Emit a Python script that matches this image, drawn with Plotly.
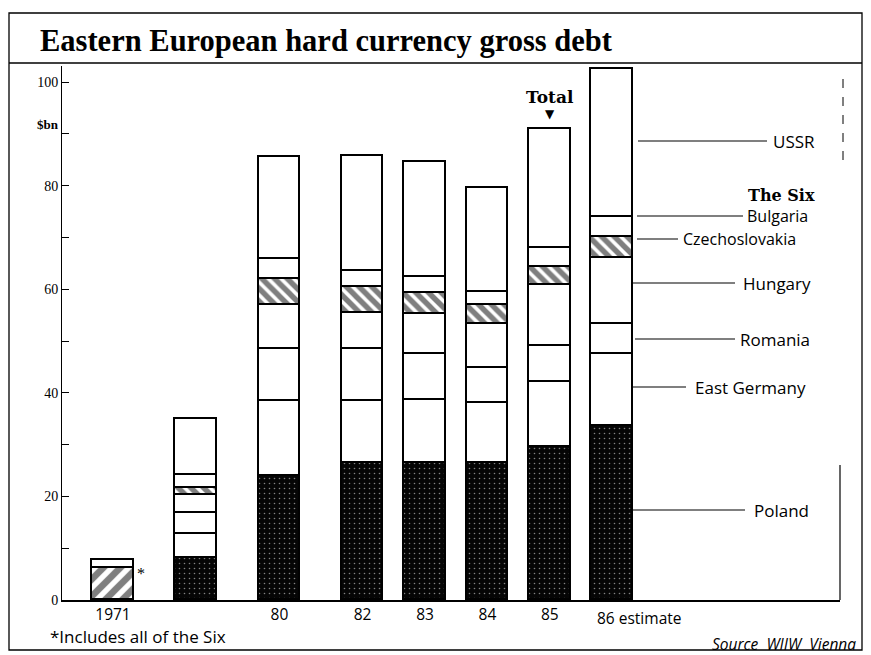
import plotly.graph_objects as go

# ---------------- data ($bn, stacked segments) ----------------
period_labels = ["1971", "", "80", "82", "83", "84", "85", "86"]
six_combined  = [6.1, None, None, None, None, None, None, None]
poland        = [None, 8.2, 24.0, 26.5, 26.5, 26.5, 29.5, 33.5]
east_germany  = [None, 4.6, 14.5, 12.0, 12.2, 11.5, 12.5, 14.0]
romania       = [None, 3.9, 10.0, 10.0, 8.8, 6.8, 7.0, 5.8]
hungary       = [None, 3.6, 8.5, 7.0, 7.8, 8.4, 11.8, 12.7]
czechoslovakia= [None, 1.4, 5.0, 5.0, 4.0, 3.8, 3.5, 4.0]
bulgaria      = [None, 2.5, 3.8, 3.0, 3.0, 2.5, 3.7, 4.0]
ussr          = [1.7, 10.8, 19.7, 22.3, 22.2, 20.0, 23.0, 28.5]

y_tick_values = [0, 10, 20, 30, 40, 50, 60, 70, 80, 90, 100]
y_tick_labels = ["0", "", "20", "", "40", "", "60", "", "80", "", "100"]

# ---------------- layout helpers (pixel coords are page coords) ----------------
slots = [0, 4, 8, 12, 15, 18, 21, 24]       # horizontal slot of each column
OFF = 8                                     # page body margin
W, H = 871 - OFF, 655 - OFF
PL, PR, PT, PB = 62, 840, 66, 600           # plot area in page pixels
X0_PX, X_UNIT = 113, 20.8                   # slot 0 centre, px per slot unit
Y_UNIT = 5.18                               # px per $bn
x_range = [(PL - X0_PX) / X_UNIT, (PR - X0_PX) / X_UNIT]
y_range = [0, (PB - PT) / Y_UNIT]

def dx(px):  # page pixel -> data x
    return (px - X0_PX) / X_UNIT

def dy(py):  # page pixel -> data y
    return (PB - py) / Y_UNIT

def ppx(px):  # page pixel -> paper x
    return (px - PL) / (PR - PL)

def ppy(py):  # page pixel -> paper y
    return (PB - py) / (PB - PT)

SERIF = "Liberation Serif"
SLAB = "DejaVu Serif"
SANS = "Open Sans"

fig = go.Figure()

def add_seg(vals, color, pattern=None, name=""):
    marker = dict(color=color, line=dict(color="black", width=1.6))
    if pattern:
        marker["pattern"] = pattern
    fig.add_trace(go.Bar(x=slots, y=vals, width=2.0, marker=marker, name=name,
                         showlegend=False, hoverinfo="skip"))

add_seg(six_combined, "white", dict(shape="/", fgcolor="black", size=12, solidity=0.55), "The Six")
add_seg(poland, "#050505", dict(shape=".", fgcolor="white", size=5, solidity=0.08), "Poland")
add_seg(east_germany, "white", None, "East Germany")
add_seg(romania, "white", None, "Romania")
add_seg(hungary, "white", None, "Hungary")
add_seg(czechoslovakia, "white", dict(shape="\\", fgcolor="black", size=9, solidity=0.6), "Czechoslovakia")
add_seg(bulgaria, "white", None, "Bulgaria")
add_seg(ussr, "white", None, "USSR")

shapes = []
# outer frame
shapes.append(dict(type="rect", xref="paper", yref="paper",
                   x0=ppx(9), x1=ppx(862), y0=ppy(650), y1=ppy(13),
                   line=dict(color="black", width=1.3)))
# title separator
shapes.append(dict(type="line", xref="paper", yref="paper",
                   x0=ppx(9), x1=ppx(862), y0=ppy(63), y1=ppy(63),
                   line=dict(color="black", width=1.3)))
# right edge of chart panel
shapes.append(dict(type="line", xref="paper", yref="paper",
                   x0=ppx(840), x1=ppx(840), y0=ppy(600), y1=ppy(465),
                   line=dict(color="black", width=1.2)))
shapes.append(dict(type="line", xref="paper", yref="paper",
                   x0=ppx(843), x1=ppx(843), y0=ppy(160), y1=ppy(75),
                   line=dict(color="black", width=1, dash="dash")))

# leader lines to the right-hand labels:
# (text, y px, line start px, line end px, text start px, font size)
labels = [
    ("USSR", 141, 638, 767, 771, 17),
    ("Bulgaria", 216, 637, 743, 745, 16),
    ("Czechoslovakia", 239, 637, 678, 681, 16),
    ("Hungary", 283, 632, 735, 741, 17),
    ("Romania", 339, 635, 735, 738, 17),
    ("East Germany", 387, 633, 686, 693, 17),
    ("Poland", 510, 630, 745, 752, 17),
]
annotations = []
for text, py, x_a, x_b, x_t, fs in labels:
    shapes.append(dict(type="line", xref="x", yref="y", x0=dx(x_a), x1=dx(x_b),
                       y0=dy(py), y1=dy(py), line=dict(color="black", width=1.2)))
    annotations.append(dict(xref="paper", yref="y", x=ppx(x_t), y=dy(py), text=text,
                            showarrow=False, xanchor="left", yanchor="middle",
                            font=dict(family=SANS, size=fs, color="black")))

annotations.append(dict(xref="paper", yref="paper", x=ppx(817), y=ppy(195),
                        text="<b>The Six</b>", showarrow=False, xanchor="right",
                        yanchor="middle", font=dict(family=SLAB, size=16, color="black")))
# title
annotations.append(dict(xref="paper", yref="paper", x=ppx(38), y=ppy(41),
                        text="<b>Eastern European hard currency gross debt</b>",
                        showarrow=False, xanchor="left", yanchor="middle",
                        font=dict(family=SERIF, size=30.5, color="black")))
# unit label
annotations.append(dict(xref="paper", yref="paper", x=ppx(61), y=ppy(124),
                        text="<b>$bn</b>", showarrow=False, xanchor="right",
                        yanchor="middle", font=dict(family=SERIF, size=13, color="black")))
# Total marker
annotations.append(dict(xref="x", yref="paper", x=slots[6], y=ppy(97),
                        text="<b>Total</b>", showarrow=False, xanchor="center",
                        yanchor="middle", font=dict(family=SLAB, size=17, color="black")))
annotations.append(dict(xref="x", yref="paper", x=slots[6], y=ppy(114),
                        text="▼", showarrow=False, xanchor="center",
                        yanchor="middle", font=dict(family="DejaVu Sans", size=12, color="black")))
# asterisk beside first column
annotations.append(dict(xref="x", yref="y", x=dx(141), y=dy(573),
                        text="*", showarrow=False, xanchor="center", yanchor="middle",
                        font=dict(family=SERIF, size=16, color="black")))
# 86 estimate label
annotations.append(dict(xref="x", yref="paper", x=dx(595), y=ppy(618),
                        text="86 estimate", showarrow=False, xanchor="left",
                        yanchor="middle", font=dict(family=SANS, size=15.5, color="black")))
# footnote and source
annotations.append(dict(xref="paper", yref="paper", x=ppx(48), y=ppy(636),
                        text="*Includes all of the Six", showarrow=False, xanchor="left",
                        yanchor="middle", font=dict(family=SANS, size=17, color="black")))
annotations.append(dict(xref="paper", yref="paper", x=ppx(858), y=ppy(644),
                        text="<i>Source  WIIW  Vienna</i>", showarrow=False, xanchor="right",
                        yanchor="middle", font=dict(family=SANS, size=15.5, color="black")))

tick_text = period_labels[:-1] + [""]

fig.update_layout(
    width=W, height=H,
    margin=dict(l=PL - OFF, r=(W + OFF) - PR, t=PT - OFF, b=(H + OFF) - PB, pad=0),
    paper_bgcolor="white", plot_bgcolor="white",
    barmode="stack", bargap=0,
    shapes=shapes, annotations=annotations,
    xaxis=dict(range=x_range, tickmode="array", tickvals=slots, ticktext=tick_text,
               showgrid=False, zeroline=False, showline=True, linecolor="black",
               linewidth=1.5, ticks="", tickfont=dict(family=SANS, size=15.5, color="black")),
    yaxis=dict(range=y_range, tickmode="array", tickvals=y_tick_values,
               ticktext=y_tick_labels, showgrid=False, zeroline=False, showline=True,
               linecolor="black", linewidth=1, ticks="inside", ticklen=7,
               tickcolor="black", tickwidth=1.2,
               tickfont=dict(family=SERIF, size=14, color="black")),
)

fig.write_html("out.html")
